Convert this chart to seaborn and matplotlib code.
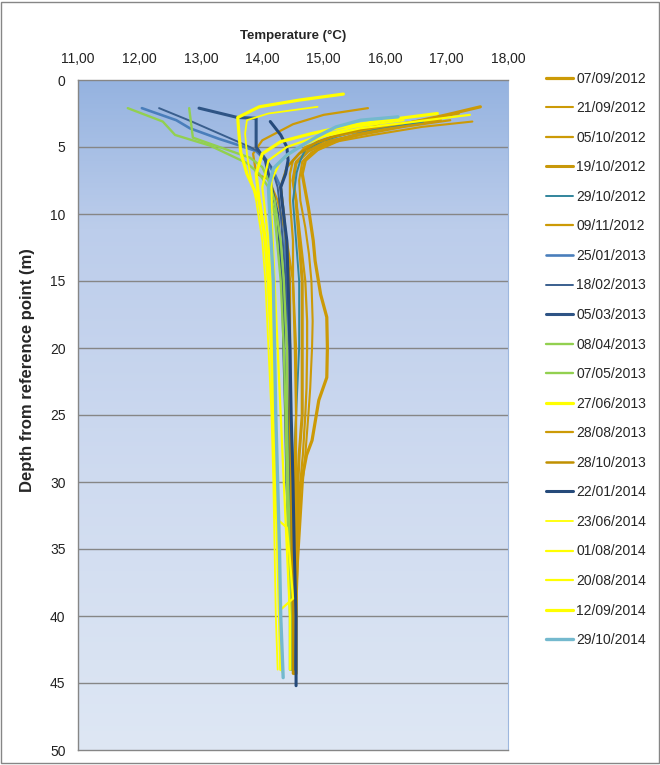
import numpy as np
import pandas as pd
import matplotlib
matplotlib.use("Agg")
import matplotlib.pyplot as plt
from matplotlib.colors import LinearSegmentedColormap
from matplotlib.patches import Rectangle
import seaborn as sns

# ---- survey dates (legend order) ----
dates = ["07/09/2012", "21/09/2012", "05/10/2012", "19/10/2012", "29/10/2012",
         "09/11/2012", "25/01/2013", "18/02/2013", "05/03/2013", "08/04/2013",
         "07/05/2013", "27/06/2013", "28/08/2013", "28/10/2013", "22/01/2014",
         "23/06/2014", "01/08/2014", "20/08/2014", "12/09/2014", "29/10/2014"]

# ---- temperature profiles: depth (m) and temperature (°C) ----
d_070912 = [2.0, 2.6, 3.2, 3.8, 4.4, 5.2, 6.0, 7.0, 9.5, 12.0, 13.5, 16.0, 17.7, 20.0, 22.2, 23.9, 26.9, 28.0, 30.4, 34.0, 38.0, 44.3]
t_070912 = [17.55, 17.0, 16.4, 15.8, 15.3, 14.9, 14.7, 14.65, 14.75, 14.83, 14.86, 14.95, 15.05, 15.06, 15.05, 14.92, 14.81, 14.72, 14.62, 14.58, 14.55, 14.52]

d_210912 = [3.1, 3.5, 4.1, 4.6, 5.4, 6.1, 7.5, 9.0, 11.0, 13.0, 15.0, 18.0, 20.0, 23.0, 25.0, 28.0, 30.0, 33.0, 36.0, 40.0, 44.0]
t_210912 = [17.42, 16.6, 15.8, 15.2, 14.8, 14.65, 14.6, 14.62, 14.7, 14.76, 14.8, 14.82, 14.81, 14.78, 14.75, 14.7, 14.66, 14.62, 14.58, 14.55, 14.52]

d_051012 = [3.0, 3.5, 4.1, 4.6, 5.4, 6.1, 7.5, 9.0, 11.0, 13.0, 15.0, 18.0, 20.0, 23.0, 25.0, 28.0, 30.0, 33.0, 36.0, 40.0, 44.0]
t_051012 = [17.06, 16.3, 15.6, 15.0, 14.7, 14.55, 14.5, 14.55, 14.6, 14.65, 14.7, 14.73, 14.73, 14.72, 14.7, 14.66, 14.62, 14.58, 14.55, 14.52, 14.5]

d_191012 = [3.0, 3.5, 4.0, 4.6, 5.3, 6.2, 7.5, 9.0, 12.0, 15.0, 18.0, 20.0, 23.0, 25.0, 28.0, 30.0, 35.0, 40.0, 44.3]
t_191012 = [16.9, 16.2, 15.6, 15.1, 14.75, 14.55, 14.5, 14.55, 14.6, 14.65, 14.65, 14.65, 14.65, 14.65, 14.6, 14.58, 14.55, 14.55, 14.55]

d_291012 = [3.1, 3.5, 4.0, 4.5, 5.2, 6.0, 6.9, 9.0, 12.0, 15.0, 20.0, 25.0, 30.0, 35.0, 40.0, 44.0]
t_291012 = [16.62, 16.0, 15.4, 15.0, 14.7, 14.62, 14.56, 14.5, 14.55, 14.6, 14.6, 14.55, 14.5, 14.48, 14.47, 14.47]

d_091112 = [2.1, 2.6, 3.3, 4.5, 5.5, 7.0, 7.4, 9.0, 12.0, 15.0, 20.0, 25.0, 30.0, 35.0, 40.0, 44.0]
t_091112 = [15.72, 15.0, 14.5, 14.0, 13.85, 13.9, 14.1, 14.25, 14.4, 14.5, 14.55, 14.55, 14.52, 14.5, 14.5, 14.5]

d_250113 = [2.1, 3.0, 3.6, 4.4, 4.9, 5.3, 6.0, 7.0, 8.0, 10.0, 15.0, 20.0, 25.0, 30.0, 35.0, 40.0, 44.0]
t_250113 = [12.04, 12.6, 12.82, 13.3, 13.64, 13.9, 14.05, 14.2, 14.3, 14.35, 14.4, 14.45, 14.45, 14.45, 14.47, 14.5, 14.5]

d_180213 = [2.1, 3.0, 3.8, 4.5, 5.0, 5.5, 6.5, 8.0, 10.0, 15.0, 20.0, 25.0, 30.0, 35.0, 40.0, 44.0]
t_180213 = [12.32, 12.8, 13.2, 13.55, 13.8, 14.0, 14.15, 14.25, 14.3, 14.38, 14.4, 14.42, 14.45, 14.47, 14.5, 14.52]

d_050313 = [2.1, 2.8, 2.85, 5.0, 6.0, 7.0, 8.0, 10.0, 15.0, 20.0, 25.0, 30.0, 35.0, 40.0, 44.0]
t_050313 = [12.97, 13.6, 13.9, 13.9, 14.05, 14.1, 14.15, 14.25, 14.33, 14.35, 14.38, 14.4, 14.45, 14.48, 14.5]

d_080413 = [2.1, 3.1, 4.1, 4.9, 6.2, 7.0, 8.0, 10.0, 15.0, 20.0, 25.0, 30.0, 35.0, 40.0, 44.0]
t_080413 = [11.81, 12.38, 12.58, 13.15, 13.75, 13.95, 14.1, 14.2, 14.3, 14.35, 14.38, 14.4, 14.42, 14.45, 14.45]

d_070513 = [2.1, 4.3, 5.0, 5.8, 6.5, 7.5, 9.0, 12.0, 15.0, 20.0, 25.0, 30.0, 35.0, 40.0, 44.0]
t_070513 = [12.81, 12.87, 13.3, 13.8, 14.0, 14.1, 14.2, 14.3, 14.35, 14.4, 14.4, 14.42, 14.45, 14.47, 14.47]

d_270613 = [1.05, 1.5, 2.0, 2.8, 4.0, 5.4, 7.0, 9.0, 12.0, 15.0, 19.4]
t_270613 = [15.32, 14.6, 13.95, 13.6, 13.62, 13.65, 13.75, 13.95, 14.05, 14.1, 14.15]

d_280813 = [2.5, 3.0, 3.6, 4.3, 5.0, 6.0, 7.0, 9.0, 12.0, 15.0, 20.0, 25.0, 30.0, 35.0, 40.0, 44.3]
t_280813 = [17.2, 16.6, 15.8, 15.1, 14.7, 14.5, 14.45, 14.45, 14.5, 14.5, 14.53, 14.55, 14.55, 14.55, 14.55, 14.55]

d_281013 = [3.4, 4.0, 4.6, 5.5, 6.5, 8.0, 10.0, 15.0, 20.0, 25.0, 30.0, 35.0, 40.0, 44.3]
t_281013 = [15.9, 15.3, 14.9, 14.6, 14.4, 14.3, 14.35, 14.45, 14.45, 14.45, 14.47, 14.48, 14.5, 14.5]

d_220114 = [3.1, 4.1, 5.0, 6.0, 7.0, 8.0, 9.0, 12.0, 15.0, 20.0, 25.0, 30.0, 35.0, 40.0, 45.2]
t_220114 = [14.13, 14.3, 14.4, 14.42, 14.38, 14.3, 14.32, 14.4, 14.42, 14.45, 14.47, 14.5, 14.52, 14.55, 14.55]

d_230614 = [2.0, 2.5, 3.0, 4.0, 5.5, 7.0, 9.0, 12.0, 15.0, 20.0, 25.0, 30.0, 35.0, 40.0, 44.0]
t_230614 = [14.9, 14.1, 13.75, 13.72, 13.75, 13.8, 13.9, 14.0, 14.05, 14.1, 14.15, 14.18, 14.2, 14.22, 14.25]

d_010814 = [3.0, 3.5, 4.2, 5.0, 6.0, 8.0, 12.0, 16.0, 20.0, 25.0, 30.0, 32.6, 33.4, 35.8, 38.7, 39.6, 44.2]
t_010814 = [16.3, 15.5, 14.9, 14.4, 14.1, 14.0, 14.1, 14.15, 14.15, 14.18, 14.2, 14.2, 14.4, 14.45, 14.5, 14.28, 14.33]

d_200814 = [2.6, 3.1, 3.6, 4.2, 5.0, 6.0, 7.5, 10.0, 15.0, 20.0, 25.0, 30.0, 35.0, 40.0, 44.0]
t_200814 = [17.38, 16.5, 15.6, 15.0, 14.6, 14.3, 14.15, 14.15, 14.2, 14.25, 14.3, 14.35, 14.4, 14.45, 14.45]

d_120914 = [2.5, 3.0, 3.5, 4.0, 4.6, 5.5, 7.0, 9.0, 12.0, 15.0, 20.0, 25.0, 30.0, 35.0, 40.0, 44.0]
t_120914 = [16.85, 16.0, 15.3, 14.8, 14.3, 14.0, 13.9, 13.95, 14.05, 14.1, 14.15, 14.18, 14.22, 14.25, 14.28, 14.3]

d_291014 = [2.75, 3.0, 3.5, 4.2, 4.85, 5.6, 6.6, 8.0, 10.0, 15.0, 20.0, 25.0, 30.0, 35.0, 40.0, 44.6]
t_291014 = [16.21, 15.6, 15.2, 14.9, 14.66, 14.4, 14.18, 14.1, 14.12, 14.18, 14.2, 14.22, 14.25, 14.28, 14.3, 14.34]

depths = [d_070912, d_210912, d_051012, d_191012, d_291012, d_091112, d_250113,
          d_180213, d_050313, d_080413, d_070513, d_270613, d_280813, d_281013,
          d_220114, d_230614, d_010814, d_200814, d_120914, d_291014]
temps = [t_070912, t_210912, t_051012, t_191012, t_291012, t_091112, t_250113,
         t_180213, t_050313, t_080413, t_070513, t_270613, t_280813, t_281013,
         t_220114, t_230614, t_010814, t_200814, t_120914, t_291014]

# ---- line styles per survey ----
gold = "#CC9A06"
colors = [gold, gold, gold, "#C8980A", "#31859C", gold, "#4A7EBB", "#3A5F8E",
          "#2E5485", "#92D050", "#92D050", "#FFFF00", gold, "#C09000", "#254A7A",
          "#FFFF00", "#FFFF00", "#FFFF00", "#FFFF00", "#74B9CE"]
widths = [2.3, 1.5, 1.6, 2.2, 1.4, 1.6, 1.9, 1.4, 2.2, 1.7, 1.7, 2.3, 1.6, 1.8, 2.2,
          1.3, 1.6, 1.6, 2.3, 2.4]

rows = []
for name, dd, tt in zip(dates, depths, temps):
    for k, (a, b) in enumerate(zip(dd, tt)):
        rows.append({"date": name, "depth": a, "temp": b, "k": k})
df = pd.DataFrame(rows)

sns.set_style("white")
plt.rcParams["font.family"] = ["Liberation Sans", "DejaVu Sans"]

fig = plt.figure(figsize=(6.6, 7.65), dpi=100)
ax = fig.add_axes([78 / 660, 1 - 750 / 765, 430 / 660, 670 / 765])

# gradient fill of the plotting area
cmap = LinearSegmentedColormap.from_list(
    "bg", [(0.0, "#95B3E0"), (0.22, "#BCCDEB"), (0.6, "#CFDBF0"), (1.0, "#DEE7F4")])
grad = np.linspace(0, 1, 256).reshape(-1, 1)
ax.imshow(grad, cmap=cmap, extent=[0, 1, 0, 1], transform=ax.transAxes,
          aspect="auto", zorder=0, origin="upper")

for ydepth in range(5, 50, 5):
    ax.axhline(ydepth, color="#868686", lw=1.0, zorder=1)

for name, c, w in zip(dates, colors, widths):
    sub = df[df["date"] == name].sort_values("k")
    sns.lineplot(data=sub, x="temp", y="depth", sort=False, estimator=None,
                 color=c, lw=w, ax=ax, label=name, zorder=3)

ax.set_xlim(11, 18)
ax.set_ylim(50, 0)
ax.set_xticks(np.arange(11, 18.5, 1))
ax.set_xticklabels([f"{v:.2f}".replace(".", ",") for v in np.arange(11, 18.5, 1)])
ax.set_yticks(range(0, 51, 5))
ax.xaxis.tick_top()
ax.tick_params(axis="x", length=0, pad=10, labelsize=10, labelcolor="#222222")
ax.tick_params(axis="y", length=0, pad=9, labelsize=10, labelcolor="#222222")

ax.set_xlabel("Temperature (°C)", fontsize=9.5, fontweight="bold")
ax.xaxis.set_label_position("top")
ax.xaxis.set_label_coords(0.5, 1 + 41 / 670)
ax.set_ylabel("Depth from reference point (m)", fontsize=12, fontweight="bold")
ax.yaxis.set_label_coords(-43 / 430, 1 - 290 / 670)

for side in ["left", "top", "bottom"]:
    ax.spines[side].set_color("#868686")
    ax.spines[side].set_linewidth(1.0)
ax.spines["right"].set_color("#9DB7DE")

handles, labels = ax.get_legend_handles_labels()
ax.get_legend().remove()
fig.legend(handles, labels, loc="upper left", bbox_to_anchor=(540 / 660, 1 - 66 / 765),
           frameon=False, fontsize=10, handlelength=2.0, handletextpad=0.2,
           labelspacing=1.12, borderaxespad=0)

fig.patches.append(Rectangle((0.002, 0.002), 0.996, 0.996, transform=fig.transFigure,
                             fill=False, edgecolor="#868686", lw=1.0))

fig.savefig("out.png", dpi=100)
